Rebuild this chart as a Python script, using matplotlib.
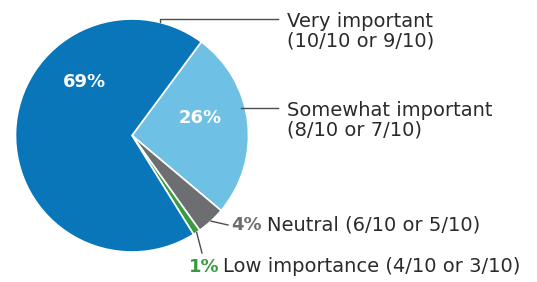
import numpy as np
import matplotlib
matplotlib.use("Agg")
import matplotlib.pyplot as plt

# slices in drawing order (clockwise from the light blue one)
names = ["Somewhat important\n(8/10 or 7/10)", "Neutral (6/10 or 5/10)",
         "Low importance (4/10 or 3/10)", "Very important\n(10/10 or 9/10)"]
shares = [26, 4, 1, 69]
colors = ["#6ec0e4", "#6d6e71", "#3a9a3f", "#0a76ba"]

W, H = 537, 282
fig = plt.figure(figsize=(W / 100, H / 100), dpi=100)
ax = fig.add_axes([0, 0, 1, 1])

cx, cy, r = 132, H - 135.5, 116.5
wedges, _ = ax.pie(shares, colors=colors, startangle=53.5, counterclock=False,
                   center=(cx, cy), radius=r, frame=True,
                   wedgeprops=dict(edgecolor="white", linewidth=1.2))
ax.set_xlim(0, W)
ax.set_ylim(0, H)
ax.set_aspect("equal")
ax.axis("off")

font = "DejaVu Sans"
txt = "#2b2b2b"
line_c = "#4d4d4d"
fs = 14
fs_pct = 13


def edge_point(w, frac=1.0, ang=None):
    if ang is None:
        ang = (w.theta1 + w.theta2) / 2
    a = np.deg2rad(ang)
    return cx + frac * r * np.cos(a), cy + frac * r * np.sin(a)


# percentages inside the big slices
ax.text(84, H - 82, f"{shares[3]}%", color="white", fontsize=fs_pct, fontweight="bold",
        ha="center", va="center", family=font)
ax.text(200, H - 118, f"{shares[0]}%", color="white", fontsize=fs_pct, fontweight="bold",
        ha="center", va="center", family=font)

# very important: tick on the top of the pie then horizontal
x0 = 160
y0 = H - 19
ax.plot([x0, x0, 278], [y0 - 3, y0, y0], color=line_c, lw=1)
ax.text(287, H - 12, names[3], color=txt, fontsize=fs, family=font,
        ha="left", va="top", linespacing=1.02)

# somewhat important
ys = H - 108
ax.plot([241, 278], [ys, ys], color=line_c, lw=1)
ax.text(287, H - 101, names[0], color=txt, fontsize=fs, family=font,
        ha="left", va="top", linespacing=1.02)

# neutral
px, py = edge_point(wedges[1], 1.0)
ax.plot([px, 228], [py, H - 225], color=line_c, lw=1)
ax.text(231, H - 225, f"{shares[1]}%", color=colors[1], fontsize=fs_pct, fontweight="bold",
        family=font, ha="left", va="center")
ax.text(267, H - 225, names[1], color=txt, fontsize=fs, family=font,
        ha="left", va="center")

# low importance
px, py = edge_point(wedges[2], 1.0)
ax.plot([px, 202], [py, H - 253], color=line_c, lw=1)
ax.text(189, H - 267, f"{shares[2]}%", color=colors[2], fontsize=fs_pct, fontweight="bold",
        family=font, ha="left", va="center")
ax.text(223, H - 267, names[2], color=txt, fontsize=fs, family=font,
        ha="left", va="center")

fig.savefig("out.png", dpi=100)
